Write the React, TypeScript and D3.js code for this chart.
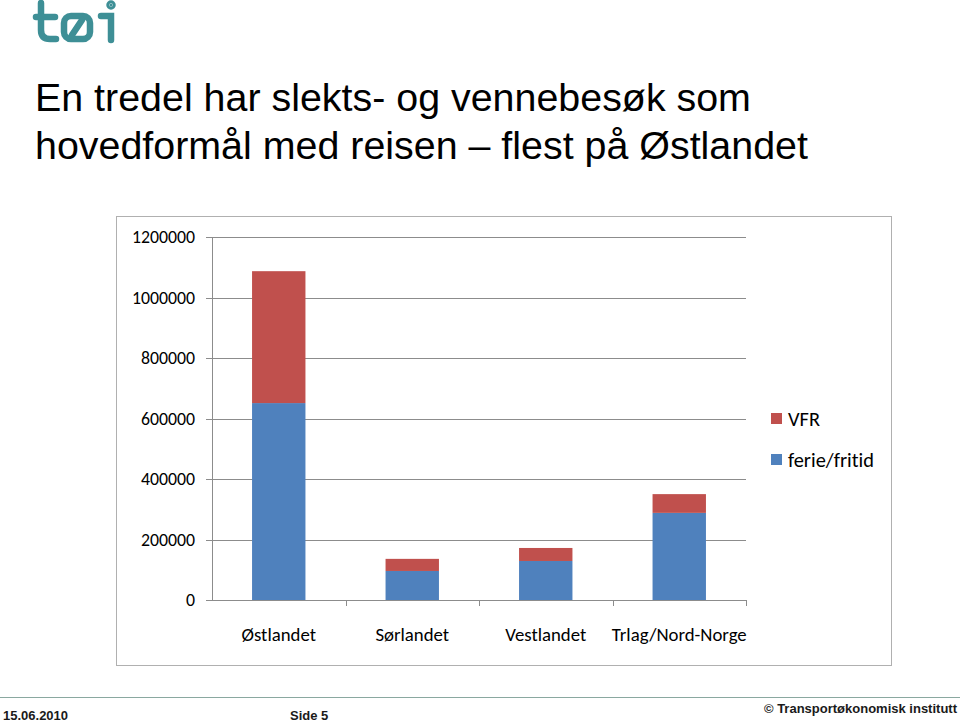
import React from "react";
import * as d3 from "d3";

const categories = ["Østlandet", "Sørlandet", "Vestlandet", "Trlag/Nord-Norge"];
const ferieFritid = [651000, 96000, 129000, 288000];
const vfr = [436000, 40000, 43000, 62000];
const yTicks = [0, 200000, 400000, 600000, 800000, 1000000, 1200000];
const seriesNames = ["VFR", "ferie/fritid"];
const colors = { vfr: "#C0504D", ferie: "#4F81BD" };

export default function App() {
  const W = 960, H = 722;
  const x = d3.scaleBand<string>().domain(categories).range([212, 746]).paddingInner(0.6).paddingOuter(0.3);
  const xb = d3.scaleBand<string>().domain(categories).range([212, 746]);
  const y = d3.scaleLinear().domain([0, 1200000]).range([600, 237]);
  const calibri = "Carlito, Lato, 'Open Sans', sans-serif";
  const teal = "#3E8F96";
  const noLig = { fontVariantLigatures: "none" } as React.CSSProperties;
  return (
    <svg width={W} height={H} style={{ position: "absolute", left: 0, top: 0, background: "#fff" }}>
      {/* logo */}
      <g stroke={teal} strokeWidth={6.5} fill="none" strokeLinecap="round">
        <path d="M41,3 L41,30 Q41,39 50,39 L56,39" />
        <path d="M36,17 L55,17" />
        <rect x={64} y={16} width={26} height={23} rx={7} />
        <path d="M72,35 L82,20" />
        <path d="M101,16 L111,16 L111,40" />
        <circle cx={111} cy={5} r={1.5} fill={teal} />
      </g>
      {/* title */}
      <g fontFamily="'Liberation Sans', Arial, sans-serif" fontSize={39.4} fill="#000">
        <text x={35} y={111}>En tredel har slekts- og vennebesøk som</text>
        <text x={35} y={159}>hovedformål med reisen – flest på Østlandet</text>
      </g>
      {/* chart frame */}
      <rect x={116.5} y={216.5} width={775} height={449} fill="#fff" stroke="#b0b0b0" strokeWidth={1} />
      {/* gridlines */}
      {yTicks.map((t) => (
        <g key={t}>
          <line x1={206} x2={746} y1={Math.round(y(t)) + 0.5} y2={Math.round(y(t)) + 0.5} stroke="#8c8c8c" strokeWidth={1} />
          <text x={195} y={y(t)} dy="0.35em" textAnchor="end" fontFamily={calibri} fontSize={17.8} fill="#000">{t}</text>
        </g>
      ))}
      <line x1={212.5} x2={212.5} y1={237} y2={600} stroke="#8c8c8c" />
      {/* x ticks */}
      {categories.map((c) => (
        <line key={c} x1={Math.round(xb(c)! + xb.bandwidth()) + 0.5} x2={Math.round(xb(c)! + xb.bandwidth()) + 0.5} y1={600} y2={606} stroke="#8c8c8c" />
      ))}
      {/* bars */}
      {categories.map((c, i) => (
        <g key={c}>
          <rect x={x(c)} width={x.bandwidth()} y={y(ferieFritid[i])} height={y(0) - y(ferieFritid[i])} fill={colors.ferie} />
          <rect x={x(c)} width={x.bandwidth()} y={y(ferieFritid[i] + vfr[i])} height={y(ferieFritid[i]) - y(ferieFritid[i] + vfr[i])} fill={colors.vfr} />
          <text x={xb(c)! + xb.bandwidth() / 2} y={634} dy="0.35em" textAnchor="middle" fontFamily={calibri} fontSize={18.8} fill="#000">{c}</text>
        </g>
      ))}
      {/* legend */}
      {seriesNames.map((s, i) => (
        <g key={s} transform={`translate(771, ${413 + i * 41})`}>
          <rect width={11} height={11} fill={i === 0 ? colors.vfr : colors.ferie} />
          <text x={17} y={6} dy="0.35em" fontFamily={calibri} fontSize={20.4} fill="#000" style={noLig}>{s}</text>
        </g>
      ))}
      {/* footer */}
      <line x1={0} x2={960} y1={697.5} y2={697.5} stroke="#8aa8a0" strokeWidth={1} />
      <g fontFamily="'Liberation Sans Narrow', 'Liberation Sans', Arial, sans-serif" fontWeight="bold" fontSize={13} fill="#1a1a1a">
        <text x={3} y={720}>15.06.2010</text>
        <text x={290} y={720}>Side 5</text>
        <text x={957} y={713} textAnchor="end">© Transportøkonomisk institutt</text>
      </g>
    </svg>
  );
}
